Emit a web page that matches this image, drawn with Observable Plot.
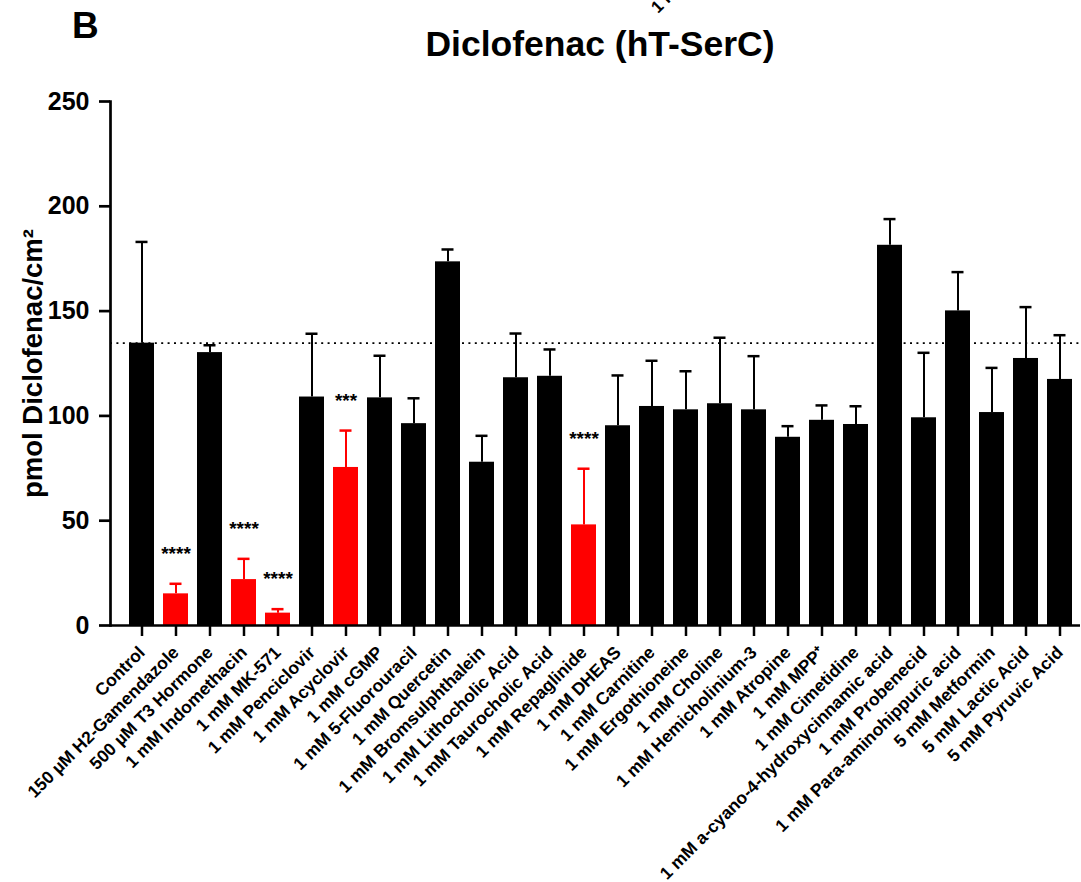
<!DOCTYPE html>
<html><head><meta charset="utf-8">
<script src="https://cdn.jsdelivr.net/npm/d3@7"></script>
<script src="https://cdn.jsdelivr.net/npm/@observablehq/plot@0.6"></script>
<style>
html,body{margin:0;padding:0;background:#fff;overflow:hidden}
#wrap{position:relative;width:1081px;height:882px;font-family:"Liberation Sans",Arial,sans-serif;font-weight:bold;color:#000}
#head{position:relative;height:70px}
#panel{position:absolute;left:72px;top:7px;font-size:37px;line-height:1}
#title{position:absolute;left:600px;top:27px;transform:translateX(-50%);font-size:35.5px;line-height:1;white-space:nowrap}
#frag{position:absolute;left:658px;top:0;font-size:17px;line-height:1;white-space:nowrap;transform:rotate(-45deg);transform-origin:0 14px}
</style>
</head><body>
<div id="wrap">
  <div id="head">
    <span id="frag">1 mM</span>
    <div id="panel">B</div>
    <div id="title">Diclofenac (hT-SerC)</div>
  </div>
  <div id="chart"></div>
</div>
<script>
const labels = ["Control","150 µM H2-Gamendazole","500 µM T3 Hormone","1 mM Indomethacin","1 mM MK-571","1 mM Penciclovir","1 mM Acyclovir","1 mM cGMP","1 mM 5-Fluorouracil","1 mM Quercetin","1 mM Bromsulphthalein","1 mM Lithocholic Acid","1 mM Taurocholic Acid","1 mM Repaglinide","1 mM DHEAS","1 mM Carnitine","1 mM Ergothioneine","1 mM Choline","1 mM Hemicholinium-3","1 mM Atropine","1 mM MPP\u207A","1 mM Cimetidine","1 mM a-cyano-4-hydroxycinnamic acid","1 mM Probenecid","1 mM Para-aminohippuric acid","5 mM Metformin","5 mM Lactic Acid","5 mM Pyruvic Acid"];
const means = [134.7, 15.1, 130.2, 21.9, 5.9, 109.0, 75.4, 108.6, 96.3, 173.5, 77.9, 118.2, 118.9, 48.0, 95.3, 104.5, 102.9, 105.8, 102.9, 89.8, 97.9, 95.9, 181.4, 99.1, 150.1, 101.6, 127.4, 117.4];
const errTops = [183.0, 19.9, 133.7, 31.8, 7.8, 139.2, 93.0, 128.7, 108.4, 179.4, 90.5, 139.3, 131.7, 74.8, 119.3, 126.3, 121.3, 137.3, 128.5, 95.1, 105.0, 104.6, 193.9, 130.1, 168.6, 122.9, 151.9, 138.5];
const stars = ["", "****", "", "****", "****", "", "***", "", "", "", "", "", "", "****", "", "", "", "", "", "", "", "", "", "", "", "", "", ""];
const yTicks = [0, 50, 100, 150, 200, 250];
const yLabel = "pmol Diclofenac/cm\u00B2";

const rows = labels.map((label, i) => ({label, mean: means[i], err: errTops[i], sig: stars[i]}));
const colorOf = d => d.sig ? "#ff0000" : "#000000";

const chart = Plot.plot({
  width: 1081, height: 812,
  marginTop: 31, marginBottom: 257, marginLeft: 110, marginRight: 1,
  style: {fontFamily: "'Liberation Sans', Arial, sans-serif", fontWeight: "bold", color: "#000", background: "#fff", overflow: "visible"},
  x: {type: "band", domain: labels, paddingInner: 0.265, paddingOuter: 0.2, insetLeft: 12, insetRight: 1},
  y: {domain: [0, 250]},
  color: {type: "identity"},
  marks: [
    Plot.ruleY([means[0]], {stroke: "#000", strokeWidth: 1.8, strokeDasharray: "2,4.4"}),
    Plot.barY(rows, {x: "label", y: "mean", fill: colorOf}),
    Plot.ruleX(rows, {x: "label", y1: "mean", y2: "err", stroke: colorOf, strokeWidth: 2}),
    Plot.tickY(rows, {x: "label", y: "err", stroke: colorOf, strokeWidth: 2.5, insetLeft: 6.5, insetRight: 6.5}),
    Plot.text(rows.filter(d => d.sig), {x: "label", y: "err", text: "sig", dy: -30, fontSize: 19, fill: "#000"}),
    Plot.frame({anchor: "left", strokeWidth: 2.7}),
    Plot.ruleY([0], {strokeWidth: 2.7}),
    Plot.axisY({ticks: yTicks, tickSize: 11, strokeWidth: 2.7, tickFormat: () => "", label: null}),
    Plot.text(yTicks, {y: d => d, frameAnchor: "left", textAnchor: "end", lineAnchor: "middle", dx: -21, fontSize: 25}),
    Plot.axisX({tickSize: 11, strokeWidth: 2.5, tickFormat: () => "", label: null}),
    Plot.text(labels, {x: d => d, frameAnchor: "bottom", rotate: -45, textAnchor: "end", lineAnchor: "bottom", dx: 4, dy: 28, fontSize: 17.5}),
    Plot.text([yLabel], {frameAnchor: "left", textAnchor: "middle", lineAnchor: "middle", rotate: -90, dx: -77, fontSize: 27.5})
  ]
});
document.getElementById("chart").appendChild(chart);
</script>
</body></html>
